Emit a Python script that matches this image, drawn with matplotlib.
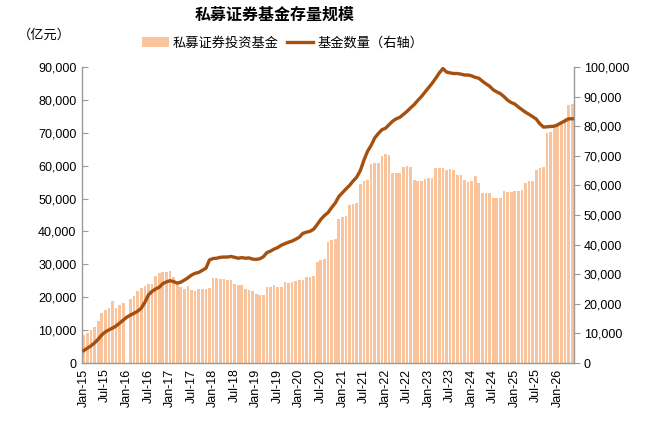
import numpy as np
import pandas as pd
import matplotlib
matplotlib.use("Agg")
import matplotlib.pyplot as plt

plt.rcParams['font.family'] = ['Liberation Sans', 'Noto Sans CJK SC', 'DejaVu Sans']

months = pd.date_range("2015-01-01", periods=137, freq="MS")
month_labels = [d.strftime("%b-%y") for d in months]

# 私募证券投资基金 (亿元), left axis; NaN = missing month
fund_size = [
    8500, 9200, 10000, 11000, 12800, 15200, 16000, 16600, 18800, 16800, 17600, 18300,
    np.nan, 19400, 20400, 21900, 22700, 23400, 23900, 24000, 26400, 27300, 27600, 27700,
    27900, 26000, 24000, 23200, 22600, 23300, 22200, 22000, 22600, 22600, 22600, 22700,
    25900, 25800, 25600, 25400, 25200, 25200, 24000, 23700, 23700, 22500, 22300, 22000,
    21000, 20800, 20800, 23200, 23000, 23600, 23200, 23100, 24500, 24400, 24500, 25000,
    25200, 25300, 26100, 26300, 26400, 30600, 31300, 31500, 36900, 37500, 37700, 43700,
    44300, 44600, 48000, 48300, 48500, 54400, 55300, 55700, 60500, 60700, 60800, 63000,
    63400, 63300, 57800, 57700, 57700, 59700, 59800, 59700, 55500, 55400, 55400, 55800,
    56100, 56300, 59200, 59300, 59300, 58800, 58900, 58700, 57300, 57200, 55600, 55100,
    55200, 56900, 54800, 51800, 51800, 51700, 50200, 50100, 50100, 52300, 52100, 52100,
    52200, 52300, 52500, 54800, 55200, 55400, 58700, 59200, 59600, 70000, 70300, 71800,
    72400, 73400, 74400, 78400, 78900,
]

# 基金数量 (右轴)
fund_count = [
    4200, 5000, 5800, 6800, 8000, 9500, 10500, 11200, 11800, 12500, 13500, 14500,
    15500, 16200, 16800, 17500, 18500, 20500, 23000, 24200, 25000, 25600, 26800, 27400,
    27800, 27500, 27000, 27300, 28000, 28800, 29700, 30300, 30600, 31300, 32000, 34800,
    35300, 35400, 35700, 35800, 35800, 36000, 35700, 35400, 35600, 35400, 35500, 35100,
    35000, 35200, 35900, 37300, 37800, 38500, 39000, 39800, 40300, 40800, 41200, 41800,
    42500, 43800, 44200, 44500, 45200, 46800, 48500, 49800, 50800, 52500, 54000, 56200,
    57500, 58800, 60000, 61500, 62800, 65000, 68500, 71500, 73500, 76000, 77500, 78800,
    79300, 80500, 81700, 82500, 83000, 84000, 85000, 86200, 87300, 88700, 90000, 91500,
    93000, 94500, 96200, 98000, 99500, 98300, 98000, 97800, 97800, 97600, 97300, 97300,
    97000, 96500, 96200, 95200, 94300, 93500, 92300, 91600, 91000, 90000, 88800, 88000,
    87500, 86500, 85600, 84700, 84000, 83200, 82400, 80800, 79700, 79800, 79900, 80000,
    80500, 81200, 81800, 82500, 82500,
]

left_ticks = list(range(0, 90001, 10000))
right_ticks = list(range(0, 100001, 10000))

bar_color = "#F9C49B"
line_color = "#A5500F"
axis_gray = "#9A9A9A"

fig = plt.figure(figsize=(6.5, 4.3), dpi=100)
ax = fig.add_axes([82/650, 1-363/430, (574-82)/650, (363-67)/430])
ax2 = ax.twinx()

x = np.arange(len(months))
bars = ax.bar(x, fund_size, width=0.75, color=bar_color, label="私募证券投资基金", zorder=2)
line, = ax2.plot(x, fund_count, color=line_color, linewidth=2.4, label="基金数量（右轴）",
                 solid_joinstyle="round", zorder=3)

ax.set_xlim(-0.5, len(months) - 0.5)
ax.set_ylim(0, 90000)
ax2.set_ylim(0, 100000)
ax.set_yticks(left_ticks)
ax2.set_yticks(right_ticks)
ax.set_yticklabels([f"{v:,}" for v in left_ticks], fontsize=9)
ax2.set_yticklabels([f"{v:,}" for v in right_ticks], fontsize=9)

tick_pos = x[::6]
ax.set_xticks(tick_pos)
ax.set_xticklabels([month_labels[i] for i in tick_pos], rotation=90, fontsize=9)
ax.tick_params(axis="x", length=0, pad=4)
ax.tick_params(axis="y", direction="in", length=4, color=axis_gray, pad=4)
ax2.tick_params(axis="y", direction="out", length=4, color=axis_gray, pad=3)

for a in (ax, ax2):
    a.spines["top"].set_visible(False)
    for s in ("left", "right", "bottom"):
        a.spines[s].set_color(axis_gray)
        a.spines[s].set_linewidth(1.0)
ax.spines["right"].set_visible(False)
ax2.spines["left"].set_visible(False)
ax2.spines["bottom"].set_visible(False)

fig.text(0.422, 0.965, "私募证券基金存量规模", ha="center", va="center", fontsize=11.5,
         fontweight="bold", family=["Noto Sans CJK SC", "DejaVu Sans"])
fig.text(0.068, 0.917, "（亿元）", ha="center", va="center", fontsize=9.5,
         family=["Noto Sans CJK SC", "DejaVu Sans"])

leg = fig.legend([bars, line], ["私募证券投资基金", "基金数量（右轴）"],
                 loc="center", bbox_to_anchor=(0.435, 0.9), ncol=2, frameon=False,
                 prop={"family": ["Noto Sans CJK SC", "DejaVu Sans"], "size": 9.5},
                 handlelength=2.0, handleheight=0.8, columnspacing=0.6, handletextpad=0.3)

fig.savefig("out.png", dpi=100)
